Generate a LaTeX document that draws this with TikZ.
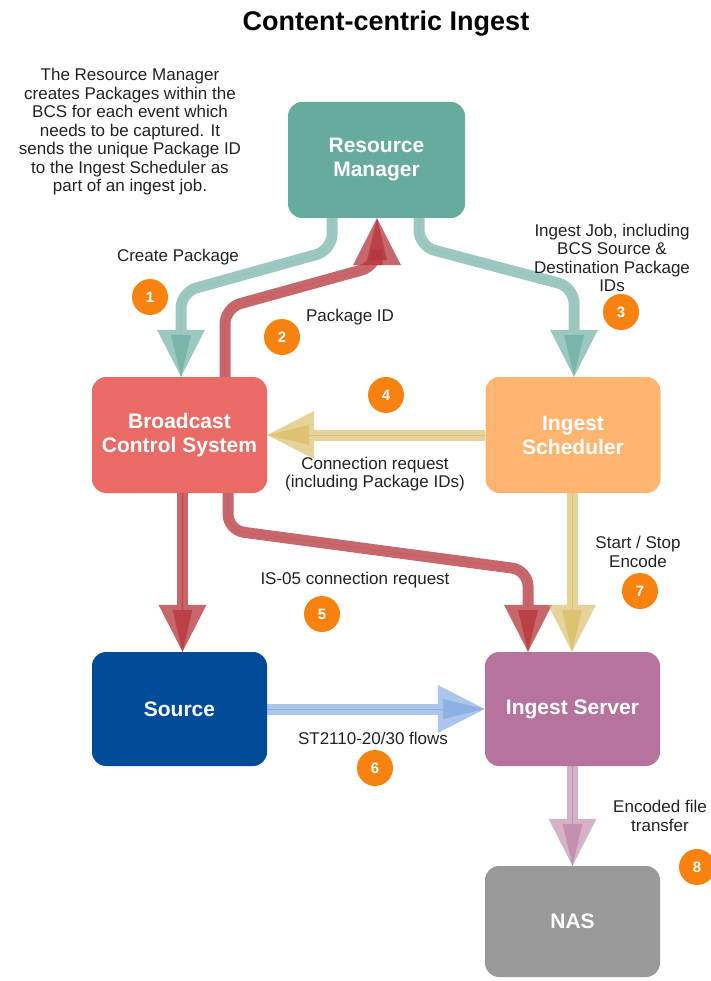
\documentclass[tikz,border=0pt]{standalone}
\usepackage{fontspec}
\setmainfont{Liberation Sans}
\usetikzlibrary{arrows.meta}

\definecolor{rmteal}{HTML}{67AB9F}
\definecolor{bcsred}{HTML}{EA6B66}
\definecolor{schedorange}{HTML}{FFB570}
\definecolor{srcblue}{HTML}{004C99}
\definecolor{srvpurple}{HTML}{B5739D}
\definecolor{nasgray}{HTML}{999999}
\definecolor{badgeorange}{HTML}{F7820F}
\definecolor{notetext}{HTML}{222222}
\definecolor{flowteal}{HTML}{67AB9F}
\definecolor{flowred}{HTML}{B5343A}
\definecolor{flowyellow}{HTML}{D6B656}
\definecolor{flowblue}{HTML}{7EA6E0}
\definecolor{flowpurple}{HTML}{B5739D}

\tikzset{
  box/.style={rectangle, rounded corners=14pt, minimum width=175pt,
    minimum height=116pt, inner sep=0pt, text=white, align=center,
    font=\fontsize{21}{24}\selectfont\bfseries},
  note/.style={inner sep=0pt, align=center, text=notetext,
    font=\fontsize{17}{18.5}\selectfont},
  badge/.style={circle, fill=badgeorange, minimum size=36pt, inner sep=0pt,
    text=white, font=\fontsize{15}{15}\selectfont\bfseries},
  flow/.style={line width=11pt, rounded corners=16pt,
    -{Triangle[width=48pt,length=47pt,line width=0pt]},
    postaction={draw, line width=0.1pt,
      -{Triangle[width=20pt,length=42pt,line width=0pt]}}},
  tealflow/.style={flow, draw=flowteal, opacity=0.65},
  redflow/.style={flow, draw=flowred, opacity=0.75},
  yellowflow/.style={flow, draw=flowyellow, opacity=0.6},
  blueflow/.style={flow, draw=flowblue, opacity=0.65},
  purpleflow/.style={flow, draw=flowpurple, opacity=0.55},
}

\begin{document}
\begin{tikzpicture}[x=1pt, y=-1pt]
\useasboundingbox (0,0) rectangle (711,981);

% title
\node[font=\fontsize{27}{30}\selectfont\bfseries] (title) at (386,24) {Content-centric Ingest};

% systems
\node[box, fill=rmteal, minimum width=177pt] (rm) at (376.5,160) {Resource\\Manager};
\node[box, fill=bcsred] (bcs) at (179.5,435) {Broadcast\\Control System};
\node[box, fill=schedorange] (sched) at (573,435) {Ingest\\Scheduler};
\node[box, fill=srcblue, minimum height=114pt] (src) at (179.5,709) {Source};
\node[box, fill=srvpurple, minimum height=114pt] (srv) at (572.5,709) {Ingest Server};
\node[box, fill=nasgray, minimum height=111pt] (nas) at (572.5,921.5) {NAS};

% flows
\draw[tealflow] ([xshift=-44.5pt]rm.south) -- ++(0,32) -- ++(-151,42) -- ([xshift=1.5pt]bcs.north);
\draw[redflow] ([xshift=45.5pt]bcs.north) -- ++(0,-69) -- ++(152,-42) -- ([xshift=0.5pt]rm.south);
\draw[tealflow] ([xshift=42.5pt]rm.south) -- ++(0,28) -- ++(155,41) -- ([xshift=1pt]sched.north);
\draw[yellowflow] (sched.west) -- (bcs.east);
\draw[redflow] ([xshift=3pt]bcs.south) -- ([xshift=3pt]src.north);
\draw[redflow] ([xshift=48.5pt]bcs.south) -- ++(0,37) -- ++(300,40) -- ([xshift=-44.5pt]srv.north);
\draw[yellowflow] ([xshift=-1pt]sched.south) -- ([xshift=-0.5pt]srv.north);
\draw[blueflow] (src.east) -- (srv.west);
\draw[purpleflow] (srv.south) -- (nas.north);

% annotations
\node[note] (desc) at (130,132) {The Resource Manager\\creates Packages within the\\BCS for each event which\\needs to be captured. It\\sends the unique Package ID\\to the Ingest Scheduler as\\part of an ingest job.};
\node[note] (l1) at (178,257) {Create Package};
\node[note] (l2) at (350,317) {Package ID};
\node[note] (l3) at (612,258) {Ingest Job, including\\BCS Source \&\\Destination Package\\IDs};
\node[note] (l4) at (375,474) {Connection request\\(including Package IDs)};
\node[note] (l5) at (355,580) {IS-05 connection request};
\node[note] (l6) at (373,738) {ST2110-20/30 flows};
\node[note] (l7) at (638,552) {Start / Stop\\Encode};
\node[note] (l8) at (660,816) {Encoded file\\transfer};

% step numbers
\node[badge] (b1) at (150,297) {1};
\node[badge] (b2) at (282,337) {2};
\node[badge] (b3) at (621,312) {3};
\node[badge] (b4) at (386,395) {4};
\node[badge] (b5) at (322,614) {5};
\node[badge] (b6) at (375,768) {6};
\node[badge] (b7) at (640,591) {7};
\node[badge] (b8) at (697,867) {8};
\end{tikzpicture}
\end{document}
